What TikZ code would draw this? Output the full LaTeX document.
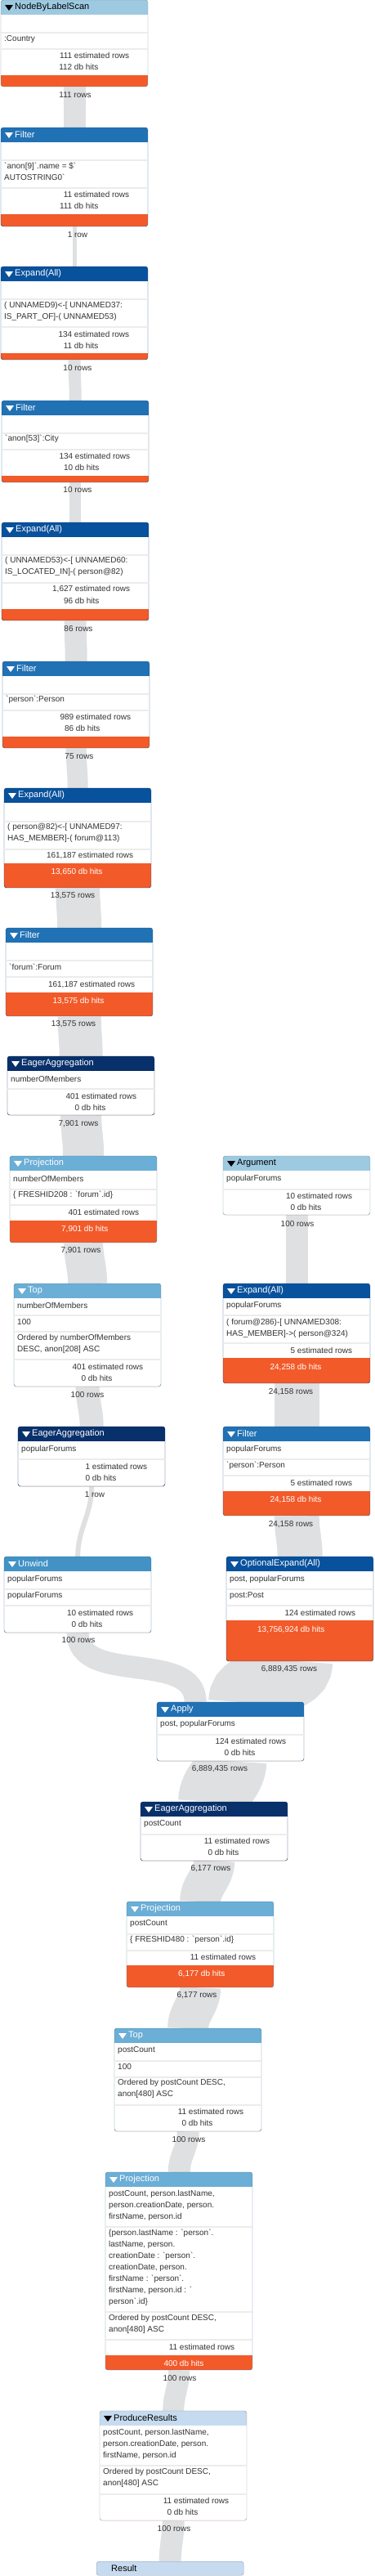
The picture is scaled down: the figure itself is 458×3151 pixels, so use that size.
\documentclass[tikz,border=0pt]{standalone}
\usepackage{fontspec}
\setmainfont{Liberation Sans}
\usetikzlibrary{backgrounds}

\definecolor{paleop}{HTML}{C6DBEF}
\definecolor{lightop}{HTML}{9ECAE1}
\definecolor{midop}{HTML}{6BAED6}
\definecolor{unwindop}{HTML}{4292C6}
\definecolor{filterop}{HTML}{2171B5}
\definecolor{expandop}{HTML}{08519C}
\definecolor{aggop}{HTML}{08306B}
\definecolor{hitcol}{HTML}{F25A29}
\definecolor{bandcol}{HTML}{DFE0E2}
\definecolor{txtcol}{HTML}{333333}

\newcommand{\bq}{\textasciigrave}

% operator box: name, left, top, bottom, top of orange part, header colour, title colour, title
\newcommand{\opbox}[8]{%
  \node[opbox, minimum height=#4-#3] (#1) at (#2,#3) {};
  \begin{scope}
    \clip[rounded corners=3pt] (#2,#3) rectangle (#2+180,#4);
    \fill[#6] (#2,#3) rectangle (#2+180,#3+18);
    \fill[hitcol] (#2,#5) rectangle (#2+180,#4);
  \end{scope}
  \draw[#6!70!black, rounded corners=3pt] (#2,#3) rectangle (#2+180,#4);
  \fill[#7] (#2+5,#3+6) -- (#2+15,#3+6) -- (#2+10,#3+13) -- cycle;
  \node[head, text=#7] (#1-title) at (#2+17,#3+9) {#8};}

% estimated rows and db hits, the number ends at x
\newcommand{\opstats}[5]{%
  \node[stat] (#1-est) at (#2,#3) {\llap{#4} estimated rows};
  \node[stat] (#1-hits) at (#2,#3+14) {\llap{#5} db hits};}
\newcommand{\ophits}[6]{%
  \node[stat] (#1-est) at (#2,#3) {\llap{#4} estimated rows};
  \node[stat, text=white] (#1-hits) at (#2,#5) {\llap{#6} db hits};}

\begin{document}
\begin{tikzpicture}[x=1pt, y=-1pt,
    opbox/.style={anchor=north west, fill=white, inner sep=0pt, minimum width=180pt, rounded corners=3pt},
    head/.style={anchor=west, inner sep=0pt, font=\fontsize{11}{13}\selectfont},
    cell/.style={anchor=west, inner sep=0pt, align=left, yshift=1pt, text=txtcol, font=\fontsize{10}{14}\selectfont},
    stat/.style={anchor=west, inner sep=0pt, text=txtcol, font=\fontsize{10}{14}\selectfont},
    rowlbl/.style={inner sep=0pt, text=txtcol, font=\fontsize{10}{14}\selectfont},
    sepline/.style={draw=gray!15, line width=1.5pt},
    band/.style={draw=bandcol}]
\useasboundingbox (0,0) rectangle (458,3151);

% left column, from the label scan down
\opbox{scan}{1}{0}{106}{92}{lightop}{black}{NodeByLabelScan}
\draw[sepline] (1,40) -- (181,40);
\draw[sepline] (1,60) -- (181,60);
\node[cell] (scan-a) at (5,49) {:Country};
\opstats{scan}{88}{68}{111}{112}

\opbox{filterA}{1}{156}{277}{262}{filterop}{white}{Filter}
\draw[sepline] (1,196) -- (181,196);
\draw[sepline] (1,230) -- (181,230);
\node[cell] (filterA-a) at (5,211) {\bq anon[9]\bq.name = \$\bq\\AUTOSTRING0\bq};
\opstats{filterA}{88}{238}{11}{111}

\opbox{expandA}{1}{326}{440}{432}{expandop}{white}{Expand(All)}
\draw[sepline] (1,366) -- (181,366);
\draw[sepline] (1,400) -- (181,400);
\node[cell] (expandA-a) at (5,382) {( UNNAMED9)<-[ UNNAMED37:\\IS\_PART\_OF]-( UNNAMED53)};
\opstats{expandA}{88}{409}{134}{11}

\opbox{filterB}{2}{490}{590}{582}{filterop}{white}{Filter}
\draw[sepline] (2,530) -- (182,530);
\draw[sepline] (2,550) -- (182,550);
\node[cell] (filterB-a) at (6,538) {\bq anon[53]\bq:City};
\opstats{filterB}{89}{558}{134}{10}

\opbox{expandB}{2}{639}{759}{745}{expandop}{white}{Expand(All)}
\draw[sepline] (2,679) -- (182,679);
\draw[sepline] (2,713) -- (182,713);
\node[cell] (expandB-a) at (6,694) {( UNNAMED53)<-[ UNNAMED60:\\IS\_LOCATED\_IN]-( person@82)};
\opstats{expandB}{89}{721}{1,627}{96}

\opbox{filterC}{3}{809}{915}{901}{filterop}{white}{Filter}
\draw[sepline] (3,849) -- (183,849);
\draw[sepline] (3,869) -- (183,869);
\node[cell] (filterC-a) at (7,857) {\bq person\bq:Person};
\opstats{filterC}{90}{877}{989}{86}

\opbox{expandC}{5}{964}{1086}{1056}{expandop}{white}{Expand(All)}
\draw[sepline] (5,1005) -- (185,1005);
\draw[sepline] (5,1039) -- (185,1039);
\node[cell] (expandC-a) at (9,1020) {( person@82)<-[ UNNAMED97:\\HAS\_MEMBER]-( forum@113)};
\ophits{expandC}{93}{1047}{161,187}{1067}{13,650}

\opbox{filterD}{7}{1135}{1243}{1214}{filterop}{white}{Filter}
\draw[sepline] (7,1175) -- (187,1175);
\draw[sepline] (7,1195) -- (187,1195);
\node[cell] (filterD-a) at (11,1184) {\bq forum\bq:Forum};
\ophits{filterD}{95}{1204}{161,187}{1224}{13,575}

\opbox{aggA}{9}{1292}{1364}{1364}{aggop}{white}{EagerAggregation}
\draw[sepline] (9,1332) -- (189,1332);
\node[cell] (aggA-a) at (13,1321) {numberOfMembers};
\opstats{aggA}{97}{1341}{401}{0}

\opbox{projA}{12}{1414}{1520}{1493}{midop}{white}{Projection}
\draw[sepline] (12,1455) -- (192,1455);
\draw[sepline] (12,1474) -- (192,1474);
\node[cell] (projA-a) at (16,1443) {numberOfMembers};
\node[cell] (projA-b) at (16,1463) {\{ FRESHID208 : \bq forum\bq.id\}};
\ophits{projA}{100}{1483}{401}{1503}{7,901}

\opbox{topA}{17}{1570}{1696}{1696}{midop}{white}{Top}
\draw[sepline] (17,1609) -- (197,1609);
\draw[sepline] (17,1629) -- (197,1629);
\draw[sepline] (17,1663) -- (197,1663);
\node[cell] (topA-a) at (21,1598) {numberOfMembers};
\node[cell] (topA-b) at (21,1618) {100};
\node[cell] (topA-c) at (21,1645) {Ordered by numberOfMembers\\DESC, anon[208] ASC};
\opstats{topA}{105}{1672}{401}{0}

\opbox{aggB}{22}{1745}{1818}{1818}{aggop}{white}{EagerAggregation}
\draw[sepline] (22,1785) -- (202,1785);
\node[cell] (aggB-a) at (26,1774) {popularForums};
\opstats{aggB}{110}{1794}{1}{0}

\opbox{unwind}{5}{1904}{1997}{1997}{unwindop}{white}{Unwind}
\draw[sepline] (5,1944) -- (185,1944);
\draw[sepline] (5,1964) -- (185,1964);
\node[cell] (unwind-a) at (9,1933) {popularForums};
\node[cell] (unwind-b) at (9,1953) {popularForums};
\opstats{unwind}{93}{1973}{10}{0}

% right column, the argument branch
\opbox{arg}{273}{1414}{1486}{1486}{lightop}{black}{Argument}
\draw[sepline] (273,1455) -- (453,1455);
\node[cell] (arg-a) at (277,1443) {popularForums};
\opstats{arg}{361}{1463}{10}{0}

\opbox{expandD}{273}{1570}{1692}{1661}{expandop}{white}{Expand(All)}
\draw[sepline] (273,1609) -- (453,1609);
\draw[sepline] (273,1643) -- (453,1643);
\node[cell] (expandD-a) at (277,1598) {popularForums};
\node[cell] (expandD-b) at (277,1626) {( forum@286)-[ UNNAMED308:\\HAS\_MEMBER]->( person@324)};
\ophits{expandD}{361}{1652}{5}{1672}{24,258}

\opbox{filterE}{273}{1745}{1854}{1824}{filterop}{white}{Filter}
\draw[sepline] (273,1785) -- (453,1785);
\draw[sepline] (273,1805) -- (453,1805);
\node[cell] (filterE-a) at (277,1774) {popularForums};
\node[cell] (filterE-b) at (277,1794) {\bq person\bq:Person};
\ophits{filterE}{361}{1814}{5}{1834}{24,158}

\opbox{optexp}{277}{1904}{2032}{1982}{expandop}{white}{OptionalExpand(All)}
\draw[sepline] (277,1944) -- (457,1944);
\draw[sepline] (277,1964) -- (457,1964);
\node[cell] (optexp-a) at (281,1933) {post, popularForums};
\node[cell] (optexp-b) at (281,1953) {post:Post};
\ophits{optexp}{365}{1973}{124}{1993}{13,756,924}

% joined part
\opbox{apply}{192}{2082}{2154}{2154}{filterop}{white}{Apply}
\draw[sepline] (192,2122) -- (372,2122);
\node[cell] (apply-a) at (196,2110) {post, popularForums};
\opstats{apply}{280}{2130}{124}{0}

\opbox{aggC}{172}{2204}{2276}{2276}{aggop}{white}{EagerAggregation}
\draw[sepline] (172,2244) -- (352,2244);
\node[cell] (aggC-a) at (176,2232) {postCount};
\opstats{aggC}{260}{2252}{11}{0}

\opbox{projB}{155}{2326}{2431}{2404}{midop}{white}{Projection}
\draw[sepline] (155,2366) -- (335,2366);
\draw[sepline] (155,2386) -- (335,2386);
\node[cell] (projB-a) at (159,2354) {postCount};
\node[cell] (projB-b) at (159,2374) {\{ FRESHID480 : \bq person\bq.id\}};
\ophits{projB}{243}{2394}{11}{2414}{6,177}

\opbox{topB}{140}{2481}{2607}{2607}{midop}{white}{Top}
\draw[sepline] (140,2521) -- (320,2521);
\draw[sepline] (140,2541) -- (320,2541);
\draw[sepline] (140,2575) -- (320,2575);
\node[cell] (topB-a) at (144,2509) {postCount};
\node[cell] (topB-b) at (144,2529) {100};
\node[cell] (topB-c) at (144,2556) {Ordered by postCount DESC,\\anon[480] ASC};
\opstats{topB}{228}{2583}{11}{0}

\opbox{projC}{129}{2657}{2899}{2881}{midop}{white}{Projection}
\draw[sepline] (129,2724) -- (309,2724);
\draw[sepline] (129,2828) -- (309,2828);
\draw[sepline] (129,2862) -- (309,2862);
\node[cell] (projC-a) at (133,2699) {postCount, person.lastName,\\person.creationDate, person.\\firstName, person.id};
\node[cell] (projC-b) at (133,2775) {\{person.lastName : \bq person\bq.\\lastName, person.\\creationDate : \bq person\bq.\\creationDate, person.\\firstName : \bq person\bq.\\firstName, person.id : \bq\\person\bq.id\}};
\node[cell] (projC-c) at (133,2844) {Ordered by postCount DESC,\\anon[480] ASC};
\ophits{projC}{217}{2871}{11}{2891}{400}

\opbox{produce}{122}{2949}{3083}{3083}{paleop}{black}{ProduceResults}
\draw[sepline] (122,3016) -- (302,3016);
\draw[sepline] (122,3051) -- (302,3051);
\node[cell] (produce-a) at (126,2991) {postCount, person.lastName,\\person.creationDate, person.\\firstName, person.id};
\node[cell] (produce-b) at (126,3032) {Ordered by postCount DESC,\\anon[480] ASC};
\opstats{produce}{210}{3059}{11}{0}

\node[opbox, fill=paleop, draw=paleop!70!black, minimum height=17pt] (result) at (118,3133) {};
\node[head, text=black] (result-title) at (136,3142) {Result};

% row counts under the boxes
\node[rowlbl] (scan-rows) at (92,116) {111 rows};
\node[rowlbl] (filterA-rows) at (95,287) {1 row};
\node[rowlbl] (expandA-rows) at (95,450) {10 rows};
\node[rowlbl] (filterB-rows) at (95,599) {10 rows};
\node[rowlbl] (expandB-rows) at (96,769) {86 rows};
\node[rowlbl] (filterC-rows) at (97,925) {75 rows};
\node[rowlbl] (expandC-rows) at (89,1096) {13,575 rows};
\node[rowlbl] (filterD-rows) at (90,1253) {13,575 rows};
\node[rowlbl] (aggA-rows) at (96,1375) {7,901 rows};
\node[rowlbl] (projA-rows) at (99,1530) {7,901 rows};
\node[rowlbl] (arg-rows) at (364,1497) {100 rows};
\node[rowlbl] (topA-rows) at (107,1706) {100 rows};
\node[rowlbl] (expandD-rows) at (356,1703) {24,158 rows};
\node[rowlbl] (aggB-rows) at (116,1828) {1 row};
\node[rowlbl] (filterE-rows) at (356,1865) {24,158 rows};
\node[rowlbl] (unwind-rows) at (96,2006) {100 rows};
\node[rowlbl] (optexp-rows) at (354,2042) {6,889,435 rows};
\node[rowlbl] (apply-rows) at (269,2164) {6,889,435 rows};
\node[rowlbl] (aggC-rows) at (258,2286) {6,177 rows};
\node[rowlbl] (projB-rows) at (241,2441) {6,177 rows};
\node[rowlbl] (topB-rows) at (231,2617) {100 rows};
\node[rowlbl] (projC-rows) at (220,2909) {100 rows};
\node[rowlbl] (produce-rows) at (213,3093) {100 rows};

% grey row bands
\begin{pgfonlayer}{background}
\draw[band, line width=27pt] (scan.south) to[out=-90,in=90] (filterA.north);
\draw[band, line width=5pt] (filterA.south) to[out=-90,in=90] (expandA.north);
\draw[band, line width=15pt] (expandA.south) to[out=-90,in=90] (filterB.north);
\draw[band, line width=14pt] (filterB.south) to[out=-90,in=90] (expandB.north);
\draw[band, line width=27pt] (expandB.south) to[out=-90,in=90] (filterC.north);
\draw[band, line width=25pt] (filterC.south) to[out=-90,in=90] (expandC.north);
\draw[band, line width=54pt] (expandC.south) to[out=-90,in=90] (filterD.north);
\draw[band, line width=53pt] (filterD.south) to[out=-90,in=90] (aggA.north);
\draw[band, line width=50pt] (aggA.south) to[out=-90,in=90] (projA.north);
\draw[band, line width=48pt] (projA.south) to[out=-90,in=90] (topA.north);
\draw[band, line width=29pt] (topA.south) to[out=-90,in=90] (aggB.north);
\draw[band, line width=6pt] (aggB.south) to[out=-90,in=90] (unwind.north);
\draw[band, line width=27pt] (arg.south) to[out=-90,in=90] (expandD.north);
\draw[band, line width=55pt] (expandD.south) to[out=-90,in=90] (filterE.north);
\draw[band, line width=55pt] (filterE.south) to[out=-90,in=90] (optexp.north);
\draw[band, line width=27pt] (unwind.south) to[out=-90,in=90] ([xshift=-43pt]apply.north);
\draw[band, line width=80pt] (optexp.south) to[out=-90,in=90] ([xshift=13pt]apply.north);
\draw[band, line width=88pt] (apply.south) to[out=-90,in=90] (aggC.north);
\draw[band, line width=50pt] (aggC.south) to[out=-90,in=90] (projB.north);
\draw[band, line width=50pt] (projB.south) to[out=-90,in=90] (topB.north);
\draw[band, line width=27pt] (topB.south) to[out=-90,in=90] (projC.north);
\draw[band, line width=26pt] (projC.south) to[out=-90,in=90] (produce.north);
\draw[band, line width=27pt] (produce.south) to[out=-90,in=90] (result.north);
\end{pgfonlayer}
\end{tikzpicture}
\end{document}
